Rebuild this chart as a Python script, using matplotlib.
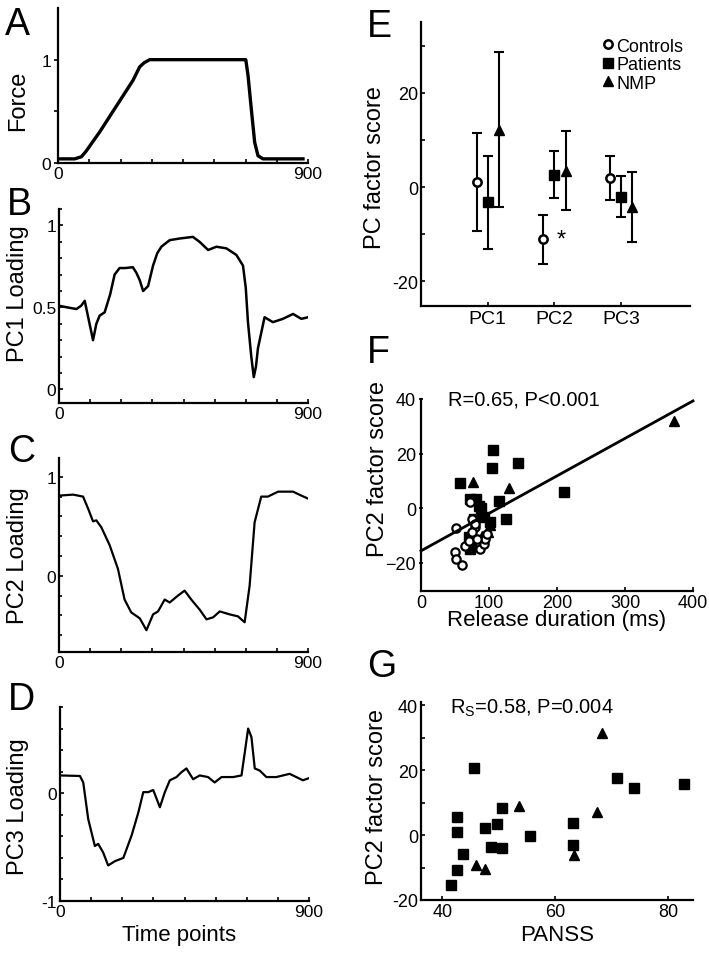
import matplotlib.pyplot as plt
import numpy as np
from matplotlib.ticker import MultipleLocator

plt.rcParams['font.family'] = ['Liberation Sans', 'DejaVu Sans']
plt.rcParams['mathtext.fontset'] = 'custom'
plt.rcParams['mathtext.rm'] = 'Liberation Sans'
plt.rcParams['mathtext.it'] = 'Liberation Sans:italic'

# ---- data ----
# A: force profile
force_t = [0, 60, 84, 100, 150, 210, 270, 294, 310, 330, 450, 600, 676, 684, 696, 708, 720, 738, 882]
force_v = [0.04, 0.04, 0.06, 0.11, 0.30, 0.55, 0.80, 0.93, 0.97, 1.0, 1.0, 1.0, 1.0, 0.85, 0.52, 0.20, 0.07, 0.04, 0.04]

# B: PC1 loading
pc1_t = [0, 30, 63, 80, 93, 108, 123, 135, 147, 165, 185, 201, 219, 240, 267, 280, 292, 304, 322, 340,
         355, 370, 400, 436, 484, 508, 539, 569, 605, 641, 665, 675, 683, 695, 704, 712, 719, 743, 773,
         809, 846, 876, 900]
pc1_v = [0.51, 0.50, 0.49, 0.51, 0.54, 0.42, 0.30, 0.40, 0.45, 0.47, 0.58, 0.70, 0.74, 0.74, 0.745, 0.71,
         0.665, 0.60, 0.63, 0.755, 0.83, 0.87, 0.91, 0.92, 0.93, 0.90, 0.85, 0.87, 0.86, 0.82, 0.755, 0.62,
         0.41, 0.20, 0.075, 0.14, 0.25, 0.44, 0.41, 0.43, 0.46, 0.43, 0.44]

# C: PC2 loading
pc2_t = [0, 51, 87, 105, 123, 135, 153, 183, 213, 237, 261, 292, 316, 340, 358, 382, 400, 430, 454, 478,
         508, 533, 557, 581, 617, 647, 671, 689, 707, 731, 755, 792, 846, 876, 900]
pc2_v = [0.81, 0.82, 0.80, 0.68, 0.55, 0.56, 0.49, 0.31, 0.07, -0.24, -0.37, -0.43, -0.55, -0.39, -0.36,
         -0.24, -0.27, -0.20, -0.15, -0.24, -0.34, -0.44, -0.42, -0.36, -0.39, -0.41, -0.47, -0.10, 0.54,
         0.80, 0.80, 0.85, 0.85, 0.81, 0.78]

# D: PC3 loading
pc3_t = [0, 72, 84, 102, 126, 138, 156, 174, 199, 229, 259, 283, 301, 319, 337, 349, 361, 379, 397, 421,
         439, 457, 481, 505, 535, 559, 584, 626, 656, 668, 680, 692, 704, 722, 746, 782, 830, 854, 878, 900]
pc3_v = [0.165, 0.16, 0.10, -0.24, -0.49, -0.47, -0.55, -0.67, -0.63, -0.60, -0.39, -0.18, 0.01, 0.01,
         0.03, -0.05, -0.13, 0.01, 0.12, 0.15, 0.195, 0.23, 0.13, 0.165, 0.15, 0.10, 0.15, 0.15, 0.165,
         0.38, 0.60, 0.52, 0.23, 0.21, 0.15, 0.15, 0.18, 0.15, 0.12, 0.14]

# E: mean PC factor scores +/- error
pcs = ['PC1', 'PC2', 'PC3']
ctrl_mean = [1.1, -11.1, 1.9]
ctrl_err = [10.3, 5.2, 4.7]
pat_mean = [-3.2, 2.6, -2.0]
pat_err = [9.9, 5.0, 4.3]
nmp_mean = [12.2, 3.5, -4.3]
nmp_err = [16.5, 8.3, 7.4]

# F: PC2 factor score vs release duration
f_ctrl_rd = [52, 79, 50, 52, 61, 87, 92, 94, 97, 75, 72, 65, 70, 75, 80, 82]
f_ctrl_pc2 = [-7.4, -7.0, -16.2, -18.7, -20.9, -15.0, -13.1, -11.3, -9.4, -3.9, 2.2, -13.7, -11.9, -8.8, -5.8, -11.3]
f_pat_rd = [106, 104, 142, 58, 211, 115, 125, 72, 81, 70, 72, 101, 92, 85, 78, 88, 74]
f_pat_pc2 = [21.2, 14.7, 16.6, 9.2, 5.9, 2.8, -3.9, 3.4, 3.4, -10.7, -15.0, -5.2, -3.3, 1.0, -4.0, 0.0, -13.0]
f_nmp_rd = [77, 129, 372, 101, 99, 90]
f_nmp_pc2 = [9.6, 7.4, 31.9, -6.1, -8.8, -10.1]
fit_rd = [0, 400]
fit_pc2 = [-15.6, 39.3]

# G: PC2 factor score vs PANSS
g_pat_panss = [45.6, 71.0, 74.0, 82.8, 50.5, 42.6, 63.2, 49.6, 47.6, 42.6, 55.5, 63.2, 48.6, 50.6, 43.7, 42.6, 41.6]
g_pat_pc2 = [20.6, 17.5, 14.4, 15.8, 8.4, 5.7, 3.7, 3.3, 2.2, 1.0, -0.2, -3.1, -3.8, -4.1, -5.9, -10.8, -15.5]
g_nmp_panss = [45.9, 47.6, 53.6, 63.4, 67.3, 68.3]
g_nmp_pc2 = [-9.2, -10.5, 8.9, -6.2, 7.2, 31.5]

W, H = 709, 954
fig = plt.figure(figsize=(W / 100, H / 100), dpi=100)


def add_ax(l, t, r, b):
    return fig.add_axes([l / W, 1 - b / H, (r - l) / W, (b - t) / H])


def base_style(ax, tick_size):
    for s in ['top', 'right']:
        ax.spines[s].set_visible(False)
    for s in ['left', 'bottom']:
        ax.spines[s].set_linewidth(1.6)
    ax.tick_params(which='both', direction='in', length=3, width=1.2, labelsize=tick_size, pad=2)
    ax.tick_params(which='minor', length=2)


def time_axis(ax):
    ax.set_xlim(0, 900)
    ticks = np.linspace(0, 900, 9)
    ax.set_xticks(ticks)
    ax.set_xticklabels(['0'] + [''] * 7 + ['900'])


TS_L = 12.5
TS_R = 13
YL = 17
XL = 16

# ---- A ----
axA = add_ax(58, 9, 308, 164)
base_style(axA, TS_L)
axA.plot(force_t, force_v, color='black', lw=2.4)
time_axis(axA)
axA.set_ylim(0, 1.5)
axA.set_yticks([0, 0.5, 1])
axA.set_yticklabels(['0', '', '1'])
axA.tick_params(axis='y', direction='out')
axA.set_ylabel('Force', fontsize=YL)
axA.yaxis.set_label_coords(-0.116, 0.41)

# ---- B ----
axB = add_ax(59, 210, 308, 404)
base_style(axB, TS_L)
axB.plot(pc1_t, pc1_v, color='black', lw=1.8)
time_axis(axB)
axB.set_ylim(-0.083, 1.10)
axB.set_yticks([0, 0.5, 1])
axB.set_yticklabels(['0', '0.5', '1'])
axB.yaxis.set_minor_locator(MultipleLocator(0.1))
axB.set_ylabel('PC1 Loading', fontsize=YL)
axB.yaxis.set_label_coords(-0.12, 0.57)

# ---- C ----
axC = add_ax(59, 459, 308, 653)
base_style(axC, TS_L)
axC.plot(pc2_t, pc2_v, color='black', lw=1.6)
time_axis(axC)
axC.set_ylim(-0.77, 1.19)
axC.set_yticks([0, 1])
axC.set_yticklabels(['0', '1'])
axC.yaxis.set_minor_locator(MultipleLocator(0.2))
axC.set_ylabel('PC2 Loading', fontsize=YL)
axC.yaxis.set_label_coords(-0.12, 0.5)

# ---- D ----
axD = add_ax(60, 708, 309, 902)
base_style(axD, TS_L)
axD.plot(pc3_t, pc3_v, color='black', lw=1.6)
time_axis(axD)
axD.set_ylim(-1.0, 0.8)
axD.set_yticks([-1, 0])
axD.set_yticklabels(['-1', '0'])
axD.yaxis.set_minor_locator(MultipleLocator(0.2))
axD.set_ylabel('PC3 Loading', fontsize=YL)
axD.yaxis.set_label_coords(-0.124, 0.49)
axD.set_xlabel('Time points', fontsize=XL)
axD.xaxis.set_label_coords((179 - 60) / 249, -(925 - 902) / 194)

# ---- E ----
axE = add_ax(421, 23, 690, 307)
base_style(axE, TS_R)
pos = np.arange(1, len(pcs) + 1)
off = 0.165
eb_kw = dict(fmt='none', ecolor='black', elinewidth=1.5, capsize=3.5, capthick=1.5)
axE.errorbar(pos - off, ctrl_mean, yerr=ctrl_err, **eb_kw)
axE.errorbar(pos, pat_mean, yerr=pat_err, **eb_kw)
axE.errorbar(pos + off, nmp_mean, yerr=nmp_err, **eb_kw)
hc, = axE.plot(pos - off, ctrl_mean, 'o', ms=6, mfc='white', mec='black', mew=1.8, label='Controls')
hp, = axE.plot(pos, pat_mean, 's', ms=7, color='black', label='Patients')
hn, = axE.plot(pos + off, nmp_mean, '^', ms=7.5, color='black', label='NMP')
axE.text(2.1, ctrl_mean[1], '*', fontsize=17, ha='center', va='center')
axE.set_xlim(0, 4.03)
axE.set_ylim(-25.2, 35)
axE.set_xticks(pos)
axE.set_xticklabels(pcs, fontsize=14)
axE.tick_params(axis='x', pad=3)
axE.set_yticks([-20, -10, 0, 10, 20, 30])
axE.set_yticklabels(['-20', '', '0', '', '20', ''])
axE.set_ylabel('PC factor score', fontsize=YL)
axE.yaxis.set_label_coords(-0.13, 0.49)
leg = axE.legend(handles=[hc, hp, hn], loc='upper right', bbox_to_anchor=(0.975, 0.945),
                 frameon=False, fontsize=13, handlelength=0.6, handletextpad=0.15,
                 labelspacing=0.08, borderpad=0, borderaxespad=0)

# ---- F ----
axF = add_ax(421, 400, 693, 592)
base_style(axF, TS_R)
axF.plot(f_pat_rd, f_pat_pc2, 's', ms=7.5, color='black', zorder=3)
axF.plot(f_nmp_rd, f_nmp_pc2, '^', ms=7.5, color='black', zorder=3)
axF.plot(f_ctrl_rd, f_ctrl_pc2, 'o', ms=6, mfc='white', mec='black', mew=1.6, zorder=4)
axF.plot(fit_rd, fit_pc2, color='black', lw=2, zorder=5, clip_on=False)
axF.set_xlim(0, 400)
axF.set_ylim(-30.3, 40)
axF.set_xticks([0, 100, 200, 300, 400])
axF.set_yticks([-20, 0, 20, 40])
axF.yaxis.set_minor_locator(MultipleLocator(2))
axF.tick_params(axis='y', which='both', direction='inout')
axF.text(0.10, 1.0, 'R=0.65, P<0.001', transform=axF.transAxes, fontsize=14.5, va='center', ha='left')
axF.set_ylabel('PC2 factor score', fontsize=YL)
axF.yaxis.set_label_coords(-0.118, 0.64)
axF.set_xlabel('Release duration (ms)', fontsize=XL)
axF.xaxis.set_label_coords(0.5, -(610 - 592) / 192)

# ---- G ----
axG = add_ax(421, 703, 693, 901)
base_style(axG, TS_R)
axG.plot(g_nmp_panss, g_nmp_pc2, '^', ms=7.5, color='black', zorder=3)
axG.plot(g_pat_panss, g_pat_pc2, 's', ms=7.5, color='black', zorder=4)
axG.set_xlim(36.2, 84.4)
axG.set_ylim(-20, 41)
axG.set_xticks([40, 60, 80])
axG.set_yticks([-20, -10, 0, 10, 20, 30, 40])
axG.set_yticklabels(['-20', '', '0', '', '20', '', '40'])
axG.text(0.107, 0.975, r'R$_\mathregular{S}$=0.58, P=0.004', transform=axG.transAxes,
         fontsize=14.5, va='center', ha='left')
axG.set_ylabel('PC2 factor score', fontsize=YL)
axG.yaxis.set_label_coords(-0.121, 0.525)
axG.set_xlabel('PANSS', fontsize=XL)
axG.xaxis.set_label_coords(0.5, -(925 - 901) / 198)

# panel letters
letters = [('A', 5, 35), ('B', 7, 215), ('C', 8, 462), ('D', 8, 710),
           ('E', 367, 37), ('F', 367, 363), ('G', 367, 677)]
for lab, x, y in letters:
    fig.text(x / W, 1 - y / H, lab, fontsize=27, ha='left', va='baseline')

fig.savefig('out.png', dpi=100)
